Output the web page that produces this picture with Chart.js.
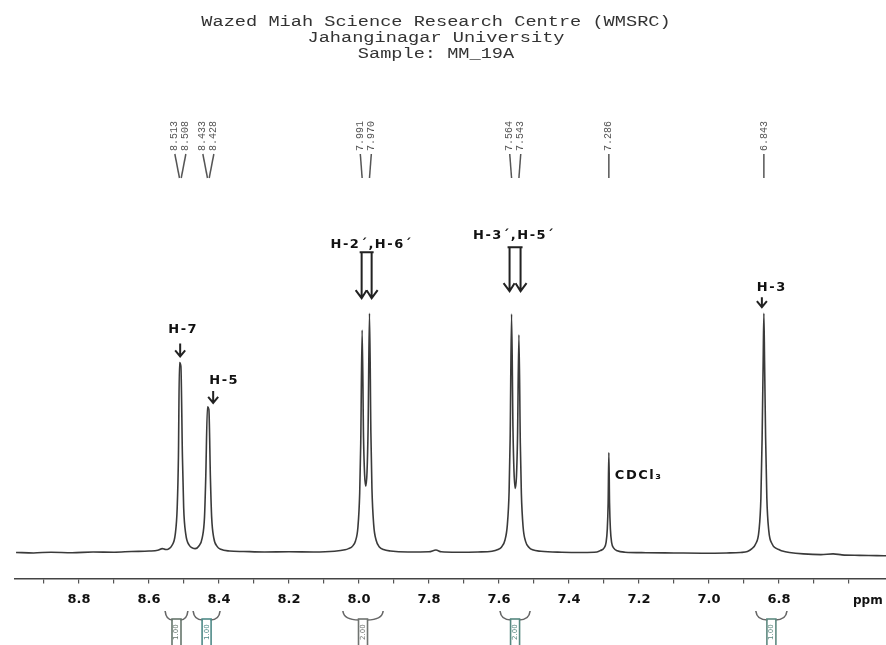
<!DOCTYPE html>
<html>
<head>
<meta charset="utf-8">
<script src="https://cdn.jsdelivr.net/npm/chart.js@4.4.1/dist/chart.umd.min.js"></script>
<style>
html, body { margin: 0; background: #fff; }
#wrap { width: 886px; height: 645px; position: relative; }
</style>
</head>
<body>
<div id="wrap"><canvas id="nmr"></canvas></div>
<script>
// spectrum trace (ppm descending, intensity relative to H-3 = 100)
const ppm = [
  8.98, 8.93, 8.88, 8.82, 8.76, 8.70, 8.65, 8.60, 8.575, 8.562, 8.552,
  8.545, 8.535, 8.525, 8.5195, 8.516, 8.513, 8.509, 8.5045, 8.501, 8.495, 8.485, 8.475, 8.468,
  8.458, 8.448, 8.4415, 8.438, 8.433, 8.429, 8.4245, 8.421, 8.415, 8.405, 8.395, 8.37,
  8.33, 8.27, 8.20, 8.13, 8.07, 8.04,
  8.030, 8.020, 8.010, 8.003, 7.998, 7.995, 7.991, 7.987, 7.984, 7.9805, 7.977, 7.974, 7.970,
  7.966, 7.963, 7.958, 7.951, 7.941, 7.930, 7.91,
  7.86, 7.80, 7.78, 7.765, 7.72, 7.66, 7.62,
  7.603, 7.593, 7.583, 7.576, 7.571, 7.568, 7.564, 7.560, 7.557, 7.5535, 7.550, 7.547, 7.543,
  7.539, 7.536, 7.531, 7.524, 7.514, 7.504, 7.48,
  7.42, 7.36, 7.32,
  7.310, 7.300, 7.294, 7.2905, 7.288, 7.286, 7.284, 7.2815, 7.278, 7.272, 7.262, 7.24,
  7.18, 7.10, 7.02, 6.95, 6.91, 6.89,
  6.877, 6.867, 6.857, 6.8515, 6.848, 6.845, 6.843, 6.841, 6.838, 6.8345, 6.829, 6.819, 6.809,
  6.800, 6.790, 6.77, 6.73, 6.68, 6.645, 6.62, 6.57, 6.52, 6.49
];
const intensity = [
  0.4, 0.2, 0.5, 0.3, 0.6, 0.5, 0.8, 1.0, 1.3, 2.0, 1.6,
  1.8, 3.2, 8, 19, 40, 79.5, 78, 40, 19, 8, 3.4, 2.2, 2.0,
  3.0, 6.5, 15, 31, 61, 60, 31, 15, 6.5, 2.8, 1.7, 1.0,
  0.8, 0.6, 0.7, 0.6, 0.9, 1.5,
  2.0, 2.8, 5.2, 11, 25, 46, 93, 48, 33, 28, 34, 52, 100,
  50, 27, 12, 5.5, 2.6, 1.6, 1.0,
  0.6, 0.7, 1.4, 0.7, 0.5, 0.6, 0.9,
  1.6, 2.6, 5.5, 12, 26, 48, 99.6, 52, 34, 27, 32, 48, 91,
  46, 25, 11, 5, 2.5, 1.5, 0.9,
  0.5, 0.4, 0.6,
  1.2, 2.2, 4.5, 10, 21, 42, 21, 10, 4.5, 2.2, 1.1, 0.5,
  0.3, 0.2, 0.1, 0.2, 0.4, 0.8,
  2.0, 3.8, 9.5, 23, 48, 80, 100, 80, 48, 23, 9.5, 3.8, 2.2,
  1.6, 1.0, 0.4, -0.2, -0.5, -0.2, -0.6, -0.8, -0.9, -1.0
];

// picked peaks (top list)
const peakLabels = ['8.513', '8.508', '8.433', '8.428', '7.991', '7.970', '7.564', '7.543', '7.286', '6.843'];

// axis
const tickValues = [8.9, 8.8, 8.7, 8.6, 8.5, 8.4, 8.3, 8.2, 8.1, 8.0, 7.9, 7.8, 7.7, 7.6, 7.5, 7.4, 7.3, 7.2, 7.1, 7.0, 6.9, 6.8, 6.7, 6.6];
const tickLabels = ['8.8', '8.6', '8.4', '8.2', '8.0', '7.8', '7.6', '7.4', '7.2', '7.0', '6.8'];

// hand-written assignments
const annotText = ['H-7', 'H-5', 'H-2´,H-6´', 'H-3´,H-5´', 'CDCl₃', 'H-3'];
const annotPpm = [8.511, 8.431, 7.981, 7.554, 7.286, 6.843];
const annotHeight = [79.5, 61, 100, 100, 42, 100];

// integral regions
const integralFrom = [8.554, 8.474, 8.046, 7.597, 6.866];
const integralTo = [8.489, 8.397, 7.931, 7.511, 6.777];
const integralValues = ['1.00', '1.00', '2.00', '2.00', '1.00'];

const titleLines = [
  'Wazed Miah Science Research Centre (WMSRC)',
  'Jahanginagar University',
  'Sample: MM_19A'
];

const points = ppm.map((p, i) => ({ x: p, y: intensity[i] }));

function arrow(ctx, x, y0, tip) {
  ctx.beginPath();
  ctx.moveTo(x, y0); ctx.lineTo(x, tip);
  ctx.moveTo(x - 5, tip - 6); ctx.lineTo(x, tip); ctx.lineTo(x + 5, tip - 6);
  ctx.stroke();
}

function doubleArrow(ctx, cx, top, tip, gap) {
  const a = cx - gap / 2, b = cx + gap / 2;
  ctx.beginPath();
  ctx.moveTo(a - 2, top); ctx.lineTo(b + 2, top);
  ctx.moveTo(a, top); ctx.lineTo(a, tip);
  ctx.moveTo(b, top); ctx.lineTo(b, tip);
  ctx.moveTo(a - 6, tip - 8); ctx.lineTo(a, tip); ctx.lineTo(a + 5, tip - 8);
  ctx.moveTo(b - 5, tip - 8); ctx.lineTo(b, tip); ctx.lineTo(b + 6, tip - 8);
  ctx.stroke();
}

const extras = {
  id: 'extras',
  afterDraw(chart) {
    const ctx = chart.ctx, xs = chart.scales.x, ys = chart.scales.y;
    ctx.save();

    // title
    ctx.fillStyle = '#333';
    ctx.textAlign = 'center';
    ctx.textBaseline = 'alphabetic';
    ctx.font = '14px "Liberation Mono"';
    titleLines.forEach((t, i) => {
      ctx.save();
      ctx.translate(436, 26 + i * 16);
      ctx.scale(1.33, 1);
      ctx.fillText(t, 0, 0);
      ctx.restore();
    });

    // peak list with leader lines
    const vals = peakLabels.map(Number);
    const groups = [];
    vals.forEach((v, i) => {
      const g = groups[groups.length - 1];
      if (g && Math.abs(vals[g[g.length - 1]] - v) < 0.03) g.push(i); else groups.push([i]);
    });
    ctx.strokeStyle = '#555';
    ctx.lineWidth = 1.5;
    ctx.fillStyle = '#555';
    ctx.font = '10px "Liberation Mono"';
    groups.forEach(g => {
      const px = g.map(i => xs.getPixelForValue(vals[i]));
      const mid = px.reduce((a, b) => a + b, 0) / px.length;
      g.forEach((i, k) => {
        const lx = mid + (k - (g.length - 1) / 2) * 11;
        ctx.save();
        ctx.translate(lx, 151);
        ctx.rotate(-Math.PI / 2);
        ctx.textAlign = 'left';
        ctx.textBaseline = 'middle';
        ctx.fillText(peakLabels[i], 0, 0);
        ctx.restore();
        ctx.beginPath();
        ctx.moveTo(lx, 154);
        ctx.lineTo(px[k], 178);
        ctx.stroke();
      });
    });

    // hand-written assignments
    ctx.fillStyle = '#111';
    ctx.strokeStyle = '#222';
    ctx.lineWidth = 2;
    ctx.font = 'bold 13px "DejaVu Sans"';
    ctx.letterSpacing = '1.5px';
    ctx.textBaseline = 'alphabetic';
    const ax = annotPpm.map(p => xs.getPixelForValue(p));
    const ay = annotHeight.map(h => ys.getPixelForValue(h));
    // H-7
    ctx.textAlign = 'center';
    ctx.fillText(annotText[0], ax[0] + 3, ay[0] - 29);
    arrow(ctx, ax[0], ay[0] - 19, ay[0] - 6);
    // H-5
    ctx.fillText(annotText[1], ax[1] + 16, ay[1] - 23);
    arrow(ctx, ax[1] + 5, ay[1] - 16, ay[1] - 4);
    // H-2',H-6'
    ctx.fillText(annotText[2], ax[2] + 6, ay[2] - 65);
    doubleArrow(ctx, ax[2] + 1, ay[2] - 61, ay[2] - 15, 10);
    // H-3',H-5'
    ctx.fillText(annotText[3], ax[3] - 1, ay[3] - 74);
    doubleArrow(ctx, ax[3], ay[3] - 66, ay[3] - 22, 11);
    // CDCl3
    ctx.textAlign = 'left';
    ctx.fillText(annotText[4], ax[4] + 6, ay[4] + 26);
    // H-3
    ctx.fillText(annotText[5], ax[5] - 7, ay[5] - 22);
    arrow(ctx, ax[5] - 2, ay[5] - 16, ay[5] - 6);
    ctx.letterSpacing = '0px';

    // axis unit
    ctx.font = 'bold 12px "DejaVu Sans"';
    ctx.fillText('ppm', 853, 604);

    // integral marks
    const boxColors = ['#66766c', '#4f8a88', '#6f7370', '#55877f', '#5e8a80'];
    integralFrom.forEach((f, i) => {
      const x0 = xs.getPixelForValue(f), x1 = xs.getPixelForValue(integralTo[i]);
      const cx = (x0 + x1) / 2;
      ctx.strokeStyle = '#666';
      ctx.lineWidth = 1.6;
      ctx.beginPath();
      ctx.moveTo(x0, 611);
      ctx.quadraticCurveTo(x0 + 1, 620, cx - 4, 620);
      ctx.moveTo(x1, 611);
      ctx.quadraticCurveTo(x1 - 1, 620, cx + 4, 620);
      ctx.stroke();
      ctx.strokeStyle = boxColors[i];
      ctx.strokeRect(cx - 4.5, 619, 9, 30);
      ctx.save();
      ctx.fillStyle = boxColors[i];
      ctx.font = '7px "DejaVu Sans"';
      ctx.translate(cx + 2, 640);
      ctx.rotate(-Math.PI / 2);
      ctx.textAlign = 'left';
      ctx.fillText(integralValues[i], 0, 0);
      ctx.restore();
    });

    ctx.restore();
  }
};

new Chart(document.getElementById('nmr'), {
  type: 'scatter',
  data: {
    datasets: [{
      data: points,
      showLine: true,
      borderColor: '#3a3a3a',
      borderWidth: 1.6,
      pointRadius: 0,
      cubicInterpolationMode: 'monotone',
      fill: false
    }]
  },
  options: {
    responsive: true,
    maintainAspectRatio: false,
    animation: false,
    events: [],
    layout: { padding: { left: 15, right: 0, top: 60, bottom: 30 } },
    plugins: { legend: { display: false }, tooltip: { enabled: false }, title: { display: false } },
    scales: {
      x: {
        type: 'linear',
        reverse: true,
        min: 6.494,
        max: 8.983,
        afterBuildTicks: s => { s.ticks = tickValues.map(v => ({ value: v })); },
        ticks: {
          autoSkip: false,
          maxRotation: 0,
          padding: 8,
          color: '#111',
          font: { family: 'DejaVu Sans', size: 13, weight: 'bold' },
          callback: v => tickLabels.find(t => Math.abs(parseFloat(t) - v) < 1e-6) || ''
        },
        grid: { display: true, drawOnChartArea: false, drawTicks: true, tickLength: 5, color: '#555', lineWidth: 1.2 },
        border: { display: true, color: '#444', width: 1.5 }
      },
      y: {
        display: false,
        min: -10.4,
        max: 205.4
      }
    }
  },
  plugins: [extras]
});
</script>
</body>
</html>
